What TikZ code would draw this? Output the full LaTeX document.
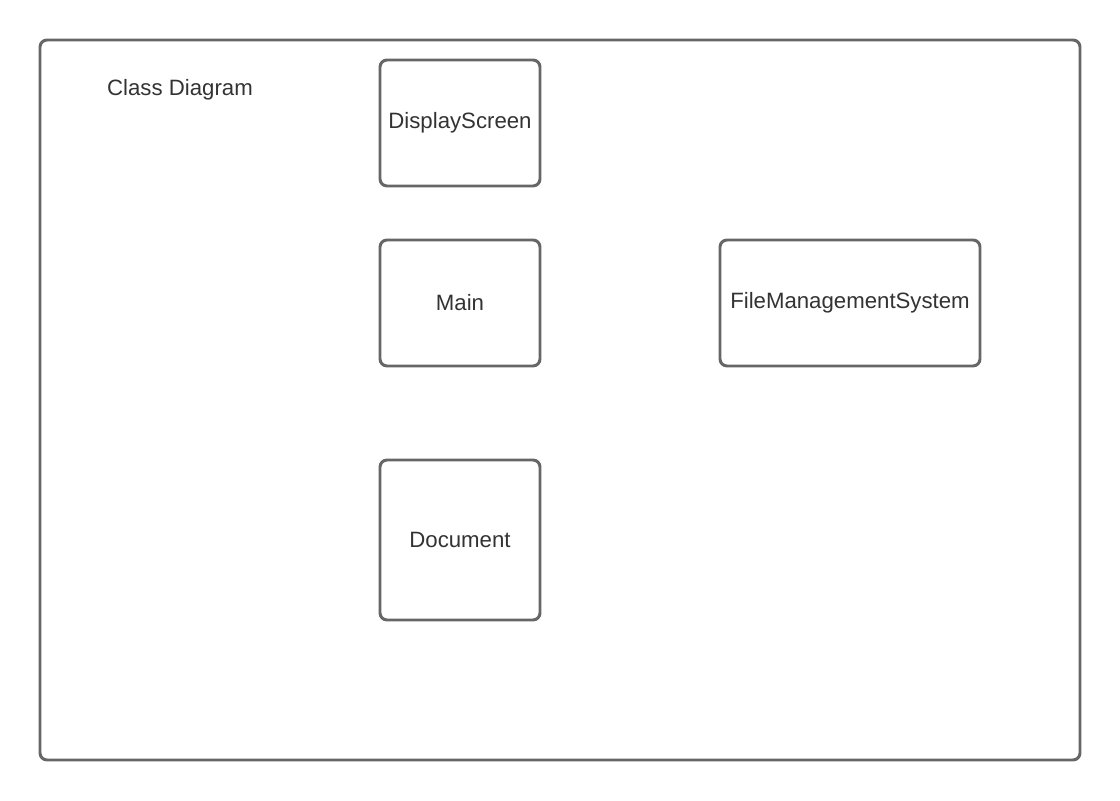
\documentclass[tikz,border=0pt]{standalone}
\usepackage{fontspec}
\setmainfont{Liberation Sans}
\usetikzlibrary{positioning}
\definecolor{frameline}{HTML}{666666}
\definecolor{ink}{HTML}{333333}
\tikzset{
  classbox/.style={draw=frameline, line width=2.1pt, rounded corners=5pt, fill=white,
    minimum width=4cm, inner sep=0pt, text=ink, font=\fontsize{15.8}{18}\selectfont},
  framelabel/.style={text=ink, font=\fontsize{15.8}{18}\selectfont}
}
\begin{document}
\begin{tikzpicture}
        \useasboundingbox (0,0) rectangle (28,20);
        \draw[frameline, line width=2.1pt, rounded corners=5pt] (1,1) rectangle (27,19);
        \node[framelabel] (title) at (4.5,17.75) {Class Diagram};
        \node[classbox, minimum height=3.15cm] (display) at (11.5,16.925) {DisplayScreen};
        \node[classbox, minimum height=3.15cm] (main) at (11.5,12.425) {Main};
        \node[classbox, minimum width=6.5cm, minimum height=3.15cm] (fms) at (21.25,12.425) {FileManagementSystem};
        \node[classbox, minimum height=4cm] (document) at (11.5,6.5) {Document};
      \end{tikzpicture}
\end{document}
